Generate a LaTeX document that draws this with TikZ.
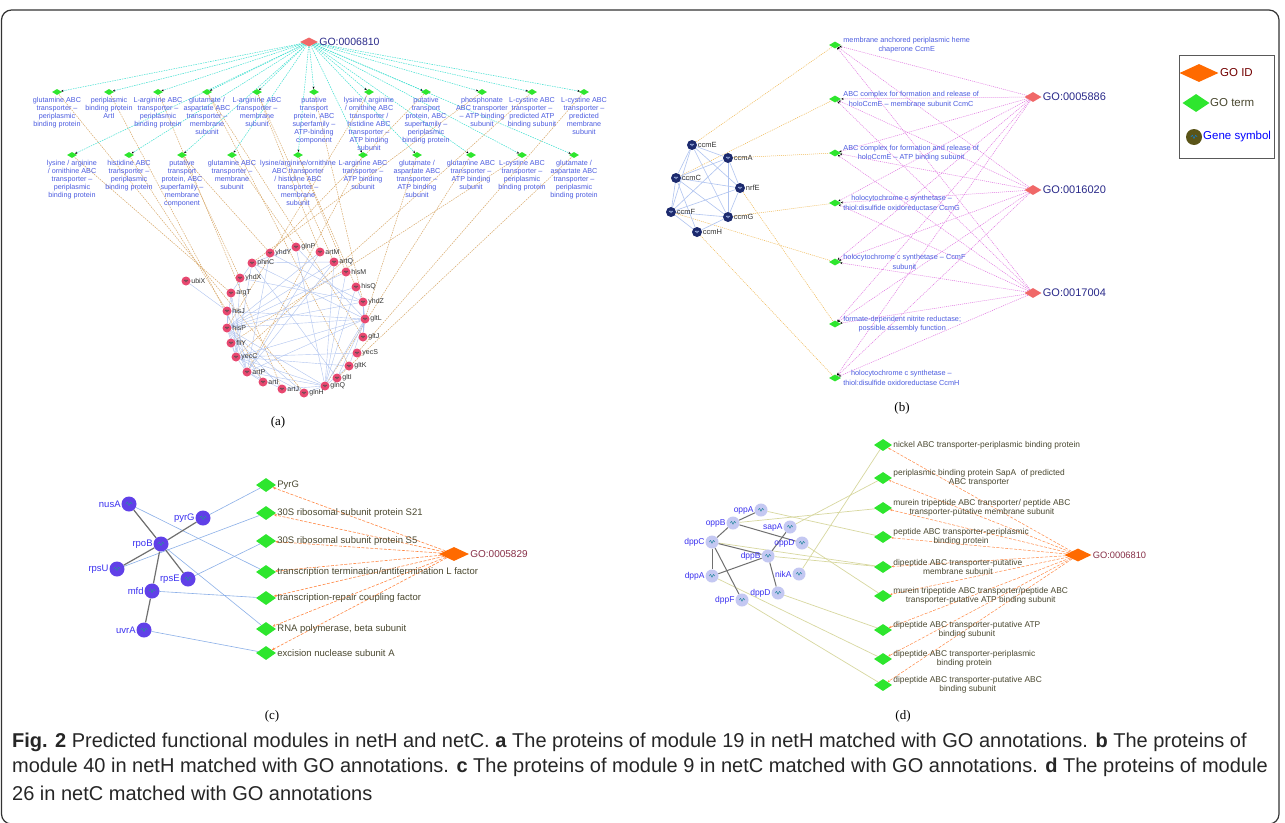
\documentclass[tikz,border=0pt]{standalone}
\usepackage{fontspec}
\setmainfont{Liberation Sans}
\newfontfamily\panelfont{Liberation Serif}
\usetikzlibrary{shapes.geometric,arrows.meta,backgrounds}

\definecolor{goidred}{HTML}{F06868}
\definecolor{goidorange}{HTML}{FF6A00}
\definecolor{gotermgreen}{HTML}{2EE62E}
\definecolor{termblue}{HTML}{4C5CE0}
\definecolor{idnavy}{HTML}{2A2A8A}
\definecolor{termolive}{HTML}{4A4830}
\definecolor{idmaroon}{HTML}{883048}
\definecolor{cyanedge}{HTML}{3EE0D0}
\definecolor{tanedge}{HTML}{D8A868}
\definecolor{pinkedge}{HTML}{E070E0}
\definecolor{amberedge}{HTML}{F0B850}
\definecolor{ppiblue}{HTML}{B0C4F0}
\definecolor{ppigray}{HTML}{707070}
\definecolor{annoorange}{HTML}{FF8844}
\definecolor{khakiedge}{HTML}{D8D8A0}
\definecolor{linkblue}{HTML}{8CB0E8}
\definecolor{genered}{HTML}{E84870}
\definecolor{genenavy}{HTML}{1C2A6E}
\definecolor{genepurple}{HTML}{6040E8}
\definecolor{genelilac}{HTML}{C4C8F2}
\definecolor{geneolive}{HTML}{5A5418}
\definecolor{iconteal}{HTML}{2A8AA0}
\definecolor{genetxt}{HTML}{333333}
\definecolor{geneblue}{HTML}{3A30F0}

\tikzset{
  goid/.style 2 args={diamond, inner sep=0pt, minimum width=#1, minimum height=#2},
  term/.style 2 args={diamond, fill=gotermgreen, inner sep=0pt, minimum width=#1, minimum height=#2},
  genicon/.style 2 args={path picture={\draw[#1, line width=.5pt, line join=round]
      ([xshift=-2*#2]path picture bounding box.center) -- ++(#2,1.2*#2) -- ++(#2,-2.2*#2)
      -- ++(#2,2.2*#2) -- ++(#2,-1.2*#2);}},
  geneA/.style={circle, fill=genered, inner sep=0pt, minimum size=9pt, genicon={black!70}{1pt}},
  geneB/.style={circle, fill=genenavy, inner sep=0pt, minimum size=10pt, genicon={ppiblue}{1pt}},
  geneC/.style={circle, fill=genepurple, inner sep=0pt, minimum size=15pt, genicon={iconteal}{1.6pt}},
  geneD/.style={circle, fill=genelilac, inner sep=0pt, minimum size=13pt, genicon={iconteal}{1.4pt}},
  txtA/.style={font=\fontsize{7.2}{8}\selectfont, text=termblue, align=center, inner sep=0pt},
  txtB/.style={font=\fontsize{7.3}{9.5}\selectfont, text=termblue, align=center, inner sep=1pt},
  txtC/.style={font=\fontsize{9.5}{11}\selectfont, text=termolive, inner sep=1pt},
  txtD/.style={font=\fontsize{8.4}{9.6}\selectfont, text=termolive, align=center, inner sep=1pt},
  glblA/.style={font=\fontsize{7}{8}\selectfont, text=genetxt, inner sep=.5pt},
  glblB/.style={font=\fontsize{7.5}{9}\selectfont, text=genetxt, inner sep=.5pt},
  glblC/.style={font=\fontsize{9.5}{11}\selectfont, text=geneblue, inner sep=.5pt},
  glblD/.style={font=\fontsize{8.5}{10}\selectfont, text=geneblue, inner sep=.5pt},
  idlblA/.style={font=\fontsize{10.5}{12}\selectfont, text=idnavy, inner sep=1pt},
  idlblC/.style={font=\fontsize{10}{12}\selectfont, text=idmaroon, inner sep=1pt},
  legtxt/.style={font=\fontsize{11.5}{13}\selectfont, inner sep=1pt},
  panel/.style={font=\panelfont\fontsize{13}{15}\selectfont, inner sep=0pt},
  capt/.style={font=\fontsize{20}{24}\selectfont, text=black!85, anchor=west, inner sep=0pt},
  cyanlink/.style={cyanedge, line width=.5pt, dash pattern=on 1.5pt off 1pt,
      -{Stealth[length=2.5pt,width=2pt,color=black]}},
  tanlink/.style={tanedge, line width=.5pt, dash pattern=on 1.5pt off 1pt},
  pinklink/.style={pinkedge, line width=.5pt, dash pattern=on 1pt off 1pt,
      -{Stealth[length=2.5pt,width=2pt,color=black]}},
  amberlink/.style={amberedge, line width=.5pt, dash pattern=on 1pt off 1pt},
  annolink/.style={annoorange, line width=.6pt, dash pattern=on 3pt off 1.5pt,
      -{Stealth[length=3pt,width=2.5pt]}},
  ppiA/.style={ppiblue, line width=.4pt},
  ppiC/.style={ppigray, line width=1.2pt},
  linkC/.style={linkblue, line width=.6pt},
  linkD/.style={khakiedge, line width=.7pt}
}

\begin{document}
\begin{tikzpicture}[x=1pt,y=-1pt]
\useasboundingbox (0,0) rectangle (1285,822);
\begin{scope}[on background layer]
\fill[white] (0,0) rectangle (1285,822);
\end{scope}
% Frame
\draw[line width=1.2pt, black!80, rounded corners=10pt] (1.5,10) rectangle (1279,824);

% Panel a: GO ID
\node[goid={18pt}{9pt}, fill=goidred] (a-go) at (309,42) {};
\node[idlblA, anchor=west] (a-go-l) at (a-go.east) {GO:0006810};
% Panel a: GO terms, upper row
\foreach \n/\x/\lbl in {t1/57/{glutamine ABC\\transporter –\\periplasmic\\binding protein},
    t2/109/{periplasmic\\binding protein\\ArtI},
    t3/158/{L-arginine ABC\\transporter –\\periplasmic\\binding protein},
    t4/207/{glutamate /\\aspartate ABC\\transporter –\\membrane\\subunit},
    t5/257/{L-arginine ABC\\transporter –\\membrane\\subunit},
    t6/314/{putative\\transport\\protein, ABC\\superfamily –\\ATP-binding\\component},
    t7/369/{lysine / arginine\\/ ornithine ABC\\transporter /\\histidine ABC\\transporter –\\ATP binding\\subunit},
    t8/426/{putative\\transport\\protein, ABC\\superfamily –\\periplasmic\\binding protein},
    t9/482/{phosphonate\\ABC transporter\\– ATP binding\\subunit},
    t10/532/{L-cystine ABC\\transporter –\\predicted ATP\\binding subunit},
    t11/584/{L-cystine ABC\\transporter –\\predicted\\membrane\\subunit}}{
  \node[term={10pt}{6pt}] (a-\n) at (\x,92) {};
  \node[txtA, anchor=north] (a-\n-l) at (\x,97) {\lbl};
}
% Panel a: GO terms, lower row
\foreach \n/\x/\lbl in {u1/72/{lysine / arginine\\/ ornithine ABC\\transporter –\\periplasmic\\binding protein},
    u2/129/{histidine ABC\\transporter –\\periplasmic\\binding protein},
    u3/182/{putative\\transport\\protein, ABC\\superfamily –\\membrane\\component},
    u4/232/{glutamine ABC\\transporter –\\membrane\\subunit},
    u5/298/{lysine/arginine/ornithine\\ABC transporter\\/ histidine ABC\\transporter –\\membrane\\subunit},
    u6/363/{L-arginine ABC\\transporter –\\ATP binding\\subunit},
    u7/417/{glutamate /\\aspartate ABC\\transporter –\\ATP binding\\subunit},
    u8/471/{glutamine ABC\\transporter –\\ATP binding\\subunit},
    u9/522/{L-cystine ABC\\transporter –\\periplasmic\\binding protein},
    u10/574/{glutamate /\\aspartate ABC\\transporter –\\periplasmic\\binding protein}}{
  \node[term={10pt}{6pt}] (a-\n) at (\x,155) {};
  \node[txtA, anchor=north] (a-\n-l) at (\x,160) {\lbl};
}
% Panel a: genes
\foreach \g/\x/\y in {ubiX/186/281, yhdY/270/253, glnP/296/247, artM/320/252, artQ/334/262,
    hisM/346/272, hisQ/356/287, yhdZ/363/302, gltL/365/319, gltJ/363/337, yecS/357/353,
    gltK/349/366, gltI/337/378, glnQ/325/386, glnH/304/393, artJ/282/389, artI/263/382,
    artP/247/372, yecC/236/357, fliY/231/343, hisP/227/328, hisJ/227/311, argT/231/293,
    yhdX/240/278, phnC/252/263}{
  \node[geneA] (a-\g) at (\x,\y) {};
  \node[glblA, anchor=west] (a-\g-l) at (a-\g.east) {\g};
}
\node[panel] (a-cap) at (278,422) {(a)};
% Done with panel a nodes; drawing edges
\begin{scope}[on background layer]
\foreach \n in {t1,t2,t3,t4,t5,t6,t7,t8,t9,t10,t11,u1,u2,u3,u4,u5,u6,u7,u8,u9,u10}
  \draw[cyanlink] (a-go) -- (a-\n);
\foreach \g/\n in {glnH/t1, artI/t2, artJ/t3, gltJ/t4, gltK/t4, artM/t5, artQ/t5, yhdZ/t6,
    hisP/t7, yhdY/t8, phnC/t9, yecC/t10, yecS/t11, argT/u1, hisJ/u2, yhdX/u3, yhdY/u3,
    glnP/u4, hisM/u5, hisQ/u5, artP/u6, gltL/u7, glnQ/u8, fliY/u9, gltI/u10}
  \draw[tanlink] (a-\g) -- (a-\n);
\foreach \s/\ts in {hisP/{hisJ,hisM,hisQ,argT,artP,artM,artQ,glnQ,gltL,yecC,artJ,artI,glnH,yhdZ},
    glnQ/{glnH,glnP,artP,hisM,hisQ,gltL,yecC,gltK,artQ,artJ},
    gltL/{gltI,gltJ,gltK,artP,yecC,glnP,hisJ,yhdZ,phnC},
    artP/{artI,artJ,artM,artQ,yecC,yhdY,hisJ,argT},
    yecC/{yecS,fliY,glnH,gltK,argT,phnC,yhdX},
    yhdZ/{yhdX,yhdY,gltJ,hisQ}, phnC/{argT,artQ,glnP,gltI}, ubiX/{hisJ}}
  \foreach \e in \ts {\draw[ppiA] (a-\s) -- (a-\e);}
\end{scope}

% Panel b: GO IDs
\foreach \n/\y/\lbl in {g1/97/GO:0005886, g2/190/GO:0016020, g3/293/GO:0017004}{
  \node[goid={17pt}{10pt}, fill=goidred] (b-\n) at (1033,\y) {};
  \node[idlblA, font=\fontsize{11}{13}\selectfont, anchor=west] (b-\n-l) at (b-\n.east) {\lbl};
}
% Panel b: GO terms
\foreach \n/\y/\lbl in {t1/45/{membrane anchored periplasmic heme\\chaperone CcmE},
    t2/99/{ABC complex for formation and release of\\holoCcmE – membrane subunit CcmC},
    t3/153/{ABC complex for formation and release of\\holoCcmE – ATP binding subunit},
    t4/203/{holocytochrome c synthetase –\\thiol:disulfide oxidoreductase CcmG},
    t5/262/{holocytochrome c synthetase – CcmF\\subunit},
    t6/324/{formate-dependent nitrite reductase;\\possible assembly function},
    t7/378/{holocytochrome c synthetase –\\thiol:disulfide oxidoreductase CcmH}}{
  \node[term={12pt}{7pt}] (b-\n) at (835,\y) {};
  \node[txtB, anchor=west] (b-\n-l) at ([xshift=1pt]b-\n.east) {\lbl};
}
% Panel b: genes
\foreach \g/\x/\y in {ccmE/692/145, ccmA/728/158, ccmC/676/178, nrfE/740/188,
    ccmF/671/212, ccmG/728/217, ccmH/697/232}{
  \node[geneB] (b-\g) at (\x,\y) {};
  \node[glblB, anchor=west] (b-\g-l) at (b-\g.east) {\g};
}
\node[panel] (b-cap) at (902,408) {(b)};
% Done with panel b nodes; drawing edges
\begin{scope}[on background layer]
\foreach \i in {g1,g2,g3}
  \foreach \n in {t1,t2,t3,t4,t5,t6,t7}
    \draw[pinklink] (b-\i) -- (b-\n);
\foreach \g/\n in {ccmE/t1, ccmC/t2, ccmA/t3, ccmG/t4, ccmF/t5, nrfE/t6, ccmH/t7}
  \draw[amberlink] (b-\g) -- (b-\n);
\foreach \s/\ts in {ccmE/{ccmA,ccmC,nrfE,ccmG,ccmF}, ccmA/{ccmC,nrfE,ccmG,ccmF},
    ccmC/{nrfE,ccmG,ccmF,ccmH}, ccmF/{ccmG,ccmH,nrfE}, ccmG/{ccmH,nrfE}}
  \foreach \e in \ts {\draw[ppiA, line width=.6pt] (b-\s) -- (b-\e);}
\end{scope}

% Legend
\draw[black!65, line width=.9pt] (1179,55) rectangle (1274,158);
\node[goid={39pt}{18pt}, fill=goidorange] (leg-id) at (1199,73) {};
\node[legtxt, text=red!45!black, anchor=west] (leg-id-l) at (1219,73) {GO ID};
\node[term={27pt}{18pt}] (leg-term) at (1196,103) {};
\node[legtxt, text=termolive, anchor=west] (leg-term-l) at (1209,103) {GO term};
\node[circle, fill=geneolive, inner sep=0pt, minimum size=16pt, genicon={cyan!60!blue}{1.6pt}] (leg-gene) at (1194,137) {};
\node[legtxt, text=blue, anchor=west] (leg-gene-l) at (1202,137) {Gene symbol};

% Panel c: GO ID and terms
\node[goid={30pt}{14pt}, fill=goidorange] (c-go) at (454,554) {};
\node[idlblC, anchor=west] (c-go-l) at (c-go.east) {GO:0005829};
\foreach \n/\y/\lbl in {t1/485/PyrG, t2/513/{30S ribosomal subunit protein S21},
    t3/541/{30S ribosomal subunit protein S5},
    t4/572/{transcription termination/antitermination L factor},
    t5/598/{transcription-repair coupling factor}, t6/629/{RNA polymerase, beta subunit},
    t7/653/{excision nuclease subunit A}}{
  \node[term={20pt}{14pt}] (c-\n) at (266,\y) {};
  \node[txtC, anchor=west] (c-\n-l) at (c-\n.east) {\lbl};
}
% Panel c: genes
\foreach \g/\x/\y in {nusA/129/504, pyrG/203/518, rpoB/161/544, rpsU/117/569,
    rpsE/188/579, mfd/152/591, uvrA/144/630}{
  \node[geneC] (c-\g) at (\x,\y) {};
  \node[glblC, anchor=east] (c-\g-l) at (c-\g.west) {\g};
}
\node[panel] (c-cap) at (272,716) {(c)};
% Done with panel c nodes; drawing edges
\begin{scope}[on background layer]
\foreach \n in {t1,t2,t3,t4,t5,t6,t7}
  \draw[annolink] (c-go) -- (c-\n);
\foreach \g/\n in {pyrG/t1, rpsU/t2, rpsE/t3, nusA/t4, mfd/t5, rpoB/t6, uvrA/t7}
  \draw[linkC] (c-\g) -- (c-\n);
\foreach \g in {nusA,pyrG,rpsU,rpsE,mfd}
  \draw[ppiC] (c-rpoB) -- (c-\g);
\draw[ppiC] (c-mfd) -- (c-uvrA);
\end{scope}

% Panel d: GO ID and terms
\node[goid={27pt}{13pt}, fill=goidorange] (d-go) at (1078,555) {};
\node[idlblC, font=\fontsize{9.3}{11}\selectfont, anchor=west] (d-go-l) at (d-go.east) {GO:0006810};
\foreach \n/\y/\lbl in {t1/445/{nickel ABC transporter-periplasmic binding protein},
    t2/478/{periplasmic binding protein SapA\ \ of predicted\\ABC transporter},
    t3/508/{murein tripeptide ABC transporter/ peptide ABC\\transporter-putative membrane subunit},
    t4/537/{peptide ABC transporter-periplasmic\\binding protein},
    t5/567/{dipeptide ABC transporter-putative\\membrane subunit},
    t6/596/{murein tripeptide ABC transporter/peptide ABC\\transporter-putative ATP binding subunit},
    t7/630/{dipeptide ABC transporter-putative ATP\\binding subunit},
    t8/659/{dipeptide ABC transporter-periplasmic\\binding protein},
    t9/685/{dipeptide ABC transporter-putative ABC\\binding subunit}}{
  \node[term={18pt}{12pt}] (d-\n) at (883,\y) {};
  \node[txtD, anchor=west] (d-\n-l) at (d-\n.east) {\lbl};
}
% Panel d: genes
\foreach \g/\x/\y in {oppA/761/510, oppB/733/523, sapA/790/527, dppC/712/542, oppD/802/543,
    dppB/768/556, dppA/712/576, nikA/799/574, dppF/742/600, dppD/778/593}{
  \node[geneD] (d-\g) at (\x,\y) {};
  \node[glblD, anchor=east] (d-\g-l) at (d-\g.west) {\g};
}
\node[panel] (d-cap) at (903,716) {(d)};
% Done with panel d nodes; drawing edges
\begin{scope}[on background layer]
\foreach \n in {t1,t2,t3,t4,t5,t6,t7,t8,t9}
  \draw[annolink, line width=.5pt, -{Stealth[length=2.5pt,width=2pt]}] (d-go) -- (d-\n);
\foreach \g/\n in {nikA/t1, sapA/t2, oppB/t3, oppA/t4, dppC/t5, dppB/t5, oppD/t6,
    dppD/t7, dppA/t8, dppF/t9}
  \draw[linkD] (d-\g) -- (d-\n);
\foreach \s/\e in {oppA/oppB, oppB/oppD, oppB/dppC, sapA/dppB, dppC/dppB, dppC/dppA,
    dppC/dppF, dppB/dppA, dppB/dppD}
  \draw[ppiC, line width=1pt] (d-\s) -- (d-\e);
\end{scope}

% Caption
\node[capt] (cap1) at (12,742) {\textbf{Fig. 2} Predicted functional modules in netH and netC. \textbf{a} The proteins of module 19 in netH matched with GO annotations. \textbf{b} The proteins of};
\node[capt] (cap2) at (12,767) {module 40 in netH matched with GO annotations. \textbf{c} The proteins of module 9 in netC matched with GO annotations. \textbf{d} The proteins of module};
\node[capt] (cap3) at (12,793) {26 in netC matched with GO annotations};
\end{tikzpicture}
\end{document}
